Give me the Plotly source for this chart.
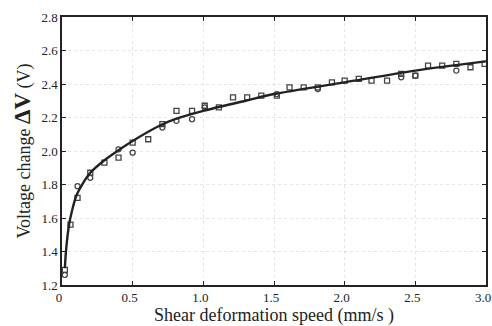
import plotly.graph_objects as go

# Measured points (open squares)
sq_x = [0.02, 0.06, 0.11, 0.20, 0.30, 0.40, 0.50, 0.61, 0.71, 0.81, 0.92, 1.01, 1.11, 1.21, 1.31,
        1.41, 1.52, 1.61, 1.71, 1.81, 1.91, 2.00, 2.10, 2.19, 2.30, 2.40, 2.50, 2.59, 2.69, 2.79, 2.89, 2.99]
sq_y = [1.29, 1.56, 1.72, 1.87, 1.93, 1.96, 2.05, 2.07, 2.16, 2.24, 2.24, 2.27, 2.26, 2.32, 2.32,
        2.33, 2.33, 2.38, 2.38, 2.38, 2.41, 2.42, 2.43, 2.42, 2.42, 2.46, 2.45, 2.51, 2.51, 2.52, 2.50, 2.52]
# Measured points (open circles)
ci_x = [0.02, 0.11, 0.20, 0.40, 0.50, 0.71, 0.81, 0.92, 1.01, 1.52, 1.81, 2.40, 2.50, 2.79]
ci_y = [1.26, 1.79, 1.84, 2.01, 1.99, 2.14, 2.18, 2.19, 2.26, 2.34, 2.37, 2.44, 2.45, 2.48]

# Fitted curve
fit_x = [0.02, 0.03, 0.05, 0.07, 0.10, 0.15, 0.20, 0.30, 0.40, 0.50, 0.70, 0.80, 1.00, 1.30, 1.50,
         2.00, 2.50, 3.00]
fit_y = [1.30, 1.42, 1.56, 1.64, 1.73, 1.81, 1.87, 1.945, 2.005, 2.06, 2.155, 2.19, 2.24, 2.30, 2.34,
         2.41, 2.48, 2.535]

x_ticks = [0, 0.5, 1.0, 1.5, 2.0, 2.5, 3.0]
x_labels = ["0", "0.5", "1.0", "1.5", "2.0", "2.5", "3.0"]
y_ticks = [1.2, 1.4, 1.6, 1.8, 2.0, 2.2, 2.4, 2.6, 2.8]
y_labels = ["1.2", "1.4", "1.6", "1.8", "2.0", "2.2", "2.4", "2.6", "2.8"]

fig = go.Figure()
fig.add_trace(go.Scatter(x=sq_x, y=sq_y, mode="markers",
                         marker=dict(symbol="square-open", size=5, color="#444",
                                     line=dict(width=1.3, color="#444")),
                         showlegend=False))
fig.add_trace(go.Scatter(x=ci_x, y=ci_y, mode="markers",
                         marker=dict(symbol="circle-open", size=5, color="#444",
                                     line=dict(width=1.3, color="#444")),
                         showlegend=False))
fig.add_trace(go.Scatter(x=fit_x, y=fit_y, mode="lines",
                         line=dict(color="#222", width=2.4, shape="spline", smoothing=0.8),
                         showlegend=False))

font_fam = "Liberation Serif, Times New Roman, serif"
axis_common = dict(showline=True, linecolor="#222", linewidth=1.5, mirror="ticks",
                   ticks="inside", ticklen=4, tickcolor="#222", tickwidth=1,
                   showgrid=True, gridcolor="rgba(0,0,0,0.10)", griddash="dot", gridwidth=1,
                   zeroline=False, ticklabeloverflow="allow",
                   tickfont=dict(family=font_fam, size=13, color="#222"))

fig.update_layout(
    width=492, height=326,
    margin=dict(l=62, r=6, t=17, b=41, autoexpand=False),
    paper_bgcolor="white", plot_bgcolor="white",
    xaxis=dict(range=[0, 3.0], tickvals=x_ticks, ticktext=x_labels, ticklabelshift=-3,
               title=dict(text="Shear deformation speed (mm/s )",
                          font=dict(family=font_fam, size=18, color="#222"), standoff=1),
               **axis_common),
    yaxis=dict(range=[1.2, 2.8], tickvals=y_ticks, ticktext=y_labels,
               title=dict(text="Voltage change <b><span style='font-size:23px'>ΔV</span></b> (V)",
                          font=dict(family=font_fam, size=18, color="#222"), standoff=6),
               **axis_common),
)

fig.write_html("out.html", config={"displayModeBar": False},
               post_script="document.body.style.margin='0px';document.body.style.overflow='hidden';")
